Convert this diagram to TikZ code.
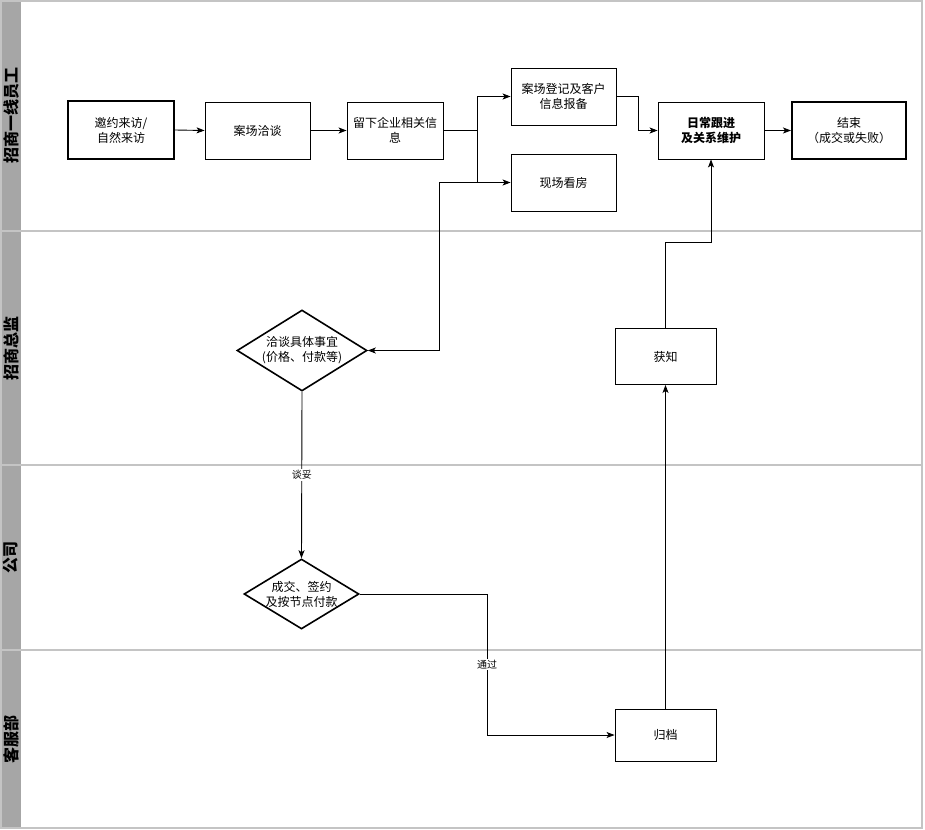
\documentclass[tikz,border=0pt]{standalone}
\usepackage{fontspec}
\setmainfont{Noto Sans CJK SC}
\usetikzlibrary{shapes.geometric,arrows.meta}
\definecolor{lanegray}{HTML}{A6A6A6}
\definecolor{lineg}{HTML}{C4C4C4}
\begin{document}
\begin{tikzpicture}[x=1pt,y=-1pt,
  box/.style={draw, line width=0.9pt, minimum width=105pt, minimum height=57pt, inner sep=1pt, align=center, font=\fontsize{12}{15}\selectfont},
  thickbox/.style={box, line width=2pt},
  dia/.style={draw, diamond, line width=1.6pt, inner sep=0pt},
  diatext/.style={align=center, font=\fontsize{12}{15}\selectfont},
  arr/.style={draw, line width=0.9pt, -{Stealth[length=8pt,width=6pt,inset=2pt]}},
  plain/.style={draw, line width=0.9pt},
  lbl/.style={fill=white, inner sep=1pt, font=\fontsize{10}{12}\selectfont},
  lanetitle/.style={rotate=90, font=\bfseries\fontsize{16}{18}\selectfont},
]
\useasboundingbox (0,0) rectangle (925,829);
% lanes
\fill[lanegray] (1,1) rectangle (21,828);
\draw[lineg, line width=1.2pt] (1,1) rectangle (922,828);
\draw[lineg, line width=1.2pt] (1,231) -- (922,231);
\draw[lineg, line width=1.2pt] (1,465) -- (922,465);
\draw[lineg, line width=1.2pt] (1,650) -- (922,650);
\node[lanetitle] (L1) at (11,116) {招商一线员工};
\node[lanetitle] (L2) at (11,348) {招商总监};
\node[lanetitle] (L3) at (11,557) {公司};
\node[lanetitle] (L4) at (11,739) {客服部};
% nodes
\node[thickbox, minimum width=106pt, minimum height=58pt] (n1) at (121,130) {邀约来访/\\自然来访};
\node[box] (n2) at (257.5,130.5) {案场洽谈};
\node[box, minimum width=96pt] (n3) at (395,130.5) {留下企业相关信\\息};
\node[box] (n4) at (563.5,96.5) {案场登记及客户\\信息报备};
\node[box] (n5) at (563.5,182.5) {现场看房};
\node[box, minimum width=106pt, font=\bfseries\fontsize{12}{15}\selectfont] (n6) at (711,130.5) {日常跟进\\及关系维护};
\node[thickbox, minimum width=114pt] (n7) at (849,130.5) {结束\\（成交或失败）};
\node[dia, minimum width=130pt, minimum height=81pt, label={[diatext]center:洽谈具体事宜\\(价格、付款等)}] (d1) at (302,350.5) {};
\node[dia, minimum width=115pt, minimum height=70pt, label={[diatext]center:成交、签约\\及按节点付款}] (d2) at (301.5,594) {};
\node[box, minimum width=101pt, minimum height=56pt] (n8) at (665.5,356.5) {获知};
\node[box, minimum width=101pt, minimum height=52pt] (n9) at (665.5,735) {归档};
% junctions
\coordinate (j1) at (477,130.5);
\coordinate (j2) at (439,182.5);
\coordinate (j3) at (487,594);
% connectors
\draw[arr] (n1.east) -- (n2.west);
\draw[arr] (n2.east) -- (n3.west);
\draw[plain] (n3.east) -- (j1);
\draw[arr] (j1) |- (n4.west);
\draw[arr] (j1) |- (n5.west);
\draw[arr] (j1) |- (j2) |- (d1.east);
\draw[arr] (n4.east) -- ++(22,0) |- (n6.west);
\draw[arr] (n6.east) -- (n7.west);
\draw[arr] (d1.south) -- node[lbl]{谈妥} (d2.north);
\draw[arr] (d2.east) -- (j3) |- node[lbl, pos=0.25]{通过} (n9.west);
\draw[arr] (n9.north) -- (n8.south);
\draw[arr] (n8.north) -- ++(0,-86) -| (n6.south);
\end{tikzpicture}
\end{document}
